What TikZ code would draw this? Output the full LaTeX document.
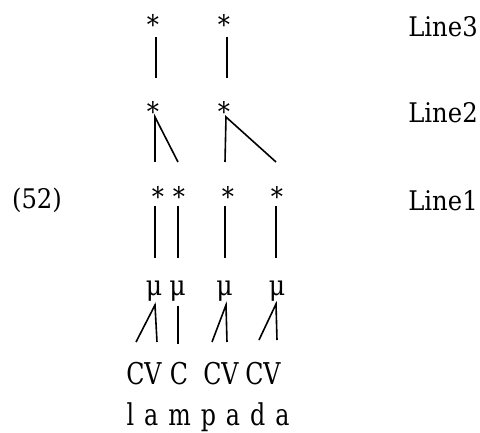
\documentclass[tikz,border=0pt]{standalone}
\usepackage{fontspec}
\setmainfont{DejaVu Serif Condensed}
\newfontfamily\skelfont{DejaVu Serif Condensed}[FakeStretch=0.88]
\usetikzlibrary{calc}
\begin{document}
\begin{tikzpicture}[x=1pt,y=-1pt,
  txt/.style={inner sep=0pt,anchor=base,font=\fontsize{27}{32}\selectfont},
  big/.style={txt,font=\skelfont\fontsize{30}{36}\selectfont},
  mora/.style={txt,font=\fontsize{28}{34}\selectfont},
  seg/.style={line width=1.6pt}]
\useasboundingbox (0,0) rectangle (480,433);
% grid marks on the three lines
\node[txt] (s3a) at (153,35) {*};
\node[txt] (s3b) at (224,35) {*};
\node[txt] (s2a) at (153,122) {*};
\node[txt] (s2b) at (224,122) {*};
\node[txt] (s1a) at (158,207) {*};
\node[txt] (s1b) at (179,207) {*};
\node[txt] (s1c) at (228,207) {*};
\node[txt] (s1d) at (277,207) {*};
% moras
\node[mora] (m1) at (154,295) {μ};
\node[mora] (m2) at (177.5,295) {μ};
\node[mora] (m3) at (224.5,295) {μ};
\node[mora] (m4) at (277,295) {μ};
% skeleton and segments
\node[big] (c1) at (144,384) {CV};
\node[big] (c2) at (179,384) {C};
\node[big] (c3) at (221,384) {CV};
\node[big] (c4) at (263,384) {CV};
\node[big,font={\skelfont\fontsize{30}{36}\selectfont\spaceskip=10pt\relax}] (wd) at (208,425) {l a m p a d a};
% labels
\node[txt] (ex) at (37,209) {(52)};
\node[txt] (l3) at (443,37) {Line3};
\node[txt] (l2) at (443,123) {Line2};
\node[txt] (l1) at (443,211) {Line1};
% Line3 -> Line2
\draw[seg] ($(s3a.base)+(3,2)$) -- ($(s2a.base)+(3,-44)$);
\draw[seg] ($(s3b.base)+(3,2)$) -- ($(s2b.base)+(3,-44)$);
% Line2 -> Line1
\draw[seg] ($(s1a.base)+(-3,-45)$) -- ($(s2a.base)+(2,-5)$) -- ($(s1b.base)+(-1,-45)$);
\draw[seg] ($(s1c.base)+(-3,-45)$) -- ($(s2b.base)+(2,-5)$) -- ($(s1d.base)+(-1,-45)$);
% Line1 -> moras
\draw[seg] ($(s1a.base)+(-3,-1)$) -- ($(m1.base)+(1,-37)$);
\draw[seg] ($(s1b.base)+(-1,-1)$) -- ($(m2.base)+(0.5,-37)$);
\draw[seg] ($(s1c.base)+(-3,-1)$) -- ($(m3.base)+(0.5,-37)$);
\draw[seg] ($(s1d.base)+(-1,-1)$) -- ($(m4.base)+(-1,-37)$);
% moras -> skeleton
\draw[seg] ($(c1.base)+(-8,-42)$) -- ($(m1.base)+(1,10)$) -- ($(c1.base)+(13,-42)$);
\draw[seg] ($(m2.base)+(0.5,11)$) -- ($(c2.base)+(-1,-40)$);
\draw[seg] ($(c3.base)+(-9,-42)$) -- ($(m3.base)+(1.5,10)$) -- ($(c3.base)+(6,-42)$);
\draw[seg] ($(c4.base)+(-4,-44)$) -- ($(m4.base)+(-1,9)$) -- ($(c4.base)+(14,-44)$);
\end{tikzpicture}
\end{document}
